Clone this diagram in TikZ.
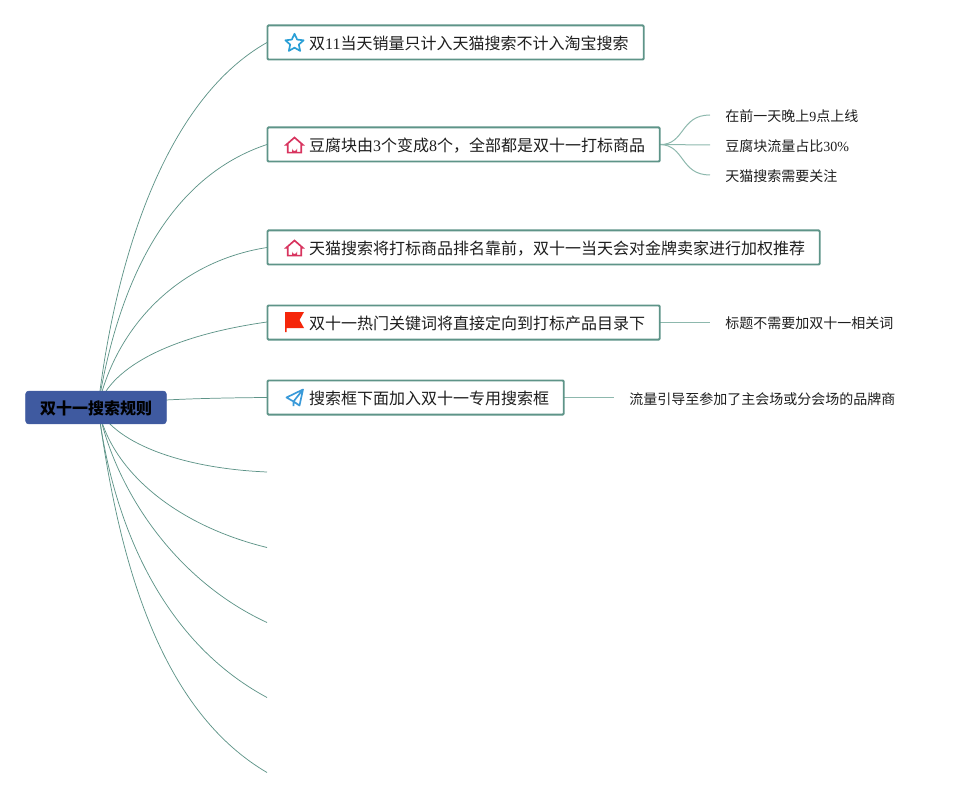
\documentclass[tikz,border=0pt]{standalone}
\usepackage{fontspec}
\setmainfont{Noto Sans CJK SC}
\newfontfamily\lat{Liberation Serif}
\definecolor{edge}{HTML}{5E9488}
\definecolor{subedge}{HTML}{8DB8AD}
\definecolor{rootfill}{HTML}{3F5AA0}
\definecolor{ink}{HTML}{1E1E1E}
\definecolor{stariconc}{HTML}{2A9FD6}
\definecolor{houseiconc}{HTML}{D8345F}
\definecolor{flagiconc}{HTML}{F5260A}
\definecolor{planeiconc}{HTML}{3A9AD9}
\newcommand{\dg}[1]{{\lat #1}}
\newcommand{\topictext}[1]{\hspace*{31.3pt}#1}
\tikzset{
  x=0.75pt,y=-0.75pt,
  topicbox/.style={draw=edge,line width=1.4pt,fill=white,rounded corners=0.8pt,anchor=west,minimum height=25.6pt,inner xsep=0pt,inner ysep=0pt,align=left,text height=10.3pt,text depth=0pt,font=\fontsize{12pt}{14pt}\selectfont,text=ink},
  subtext/.style={anchor=west,inner sep=0pt,font=\fontsize{10.5pt}{12pt}\selectfont,text=ink},
  rootbox/.style={draw=rootfill,fill=rootfill,rounded corners=2.2pt,minimum width=105.5pt,minimum height=24.5pt,inner sep=0pt,text height=11pt,text depth=0pt,font=\fontsize{12pt}{14pt}\selectfont\bfseries,text=black},
  branch/.style={draw=edge,line width=0.55pt},
  subbranch/.style={draw=subedge,line width=0.75pt},
  iconline/.style={line width=1.25pt,line join=round}
}
\begin{document}
\begin{tikzpicture}
\useasboundingbox (0,0) rectangle (955,798);
% free ends
\coordinate (e6) at (267,472);
\coordinate (e7) at (267,547.5);
\coordinate (e8) at (267,622.5);
\coordinate (e9) at (267,697.5);
\coordinate (e10) at (267,772.5);
\coordinate (r) at (98,407);
\coordinate (s1) at (710,115);
\coordinate (s2) at (710,145);
\coordinate (s3) at (710,175);
\coordinate (s4) at (710,322.5);
\coordinate (s5) at (614,397.5);
\path (267,42.5) coordinate (w1) (267,144.5) coordinate (w2) (267,247.5) coordinate (w3) (267,322) coordinate (w4) (267,397.5) coordinate (w5);
\path (660,144.5) coordinate (o2) (660,322.5) coordinate (o4) (564,397.5) coordinate (o5);
% connectors
\draw[branch] (r) .. controls (115,260) and (165,100) .. (w1);
\draw[branch] (r) .. controls (120,270) and (175,175) .. (w2);
\draw[branch] (r) .. controls (115,330) and (175,262) .. (w3);
\draw[branch] (r) .. controls (112,365) and (175,335) .. (w4);
\draw[branch] (r) .. controls (130,400) and (200,398) .. (w5);
\draw[branch] (r) .. controls (112,440) and (175,468) .. (e6);
\draw[branch] (r) .. controls (110,470) and (175,525) .. (e7);
\draw[branch] (r) .. controls (115,490) and (175,580) .. (e8);
\draw[branch] (r) .. controls (112,520) and (160,640) .. (e9);
\draw[branch] (r) .. controls (116,540) and (152,705) .. (e10);
\draw[subbranch] (o2) .. controls (685,145) and (680,115) .. (s1);
\draw[subbranch] (o2) -- (s2);
\draw[subbranch] (o2) .. controls (685,145) and (680,175) .. (s3);
\draw[subbranch] (o4) -- (s4);
\draw[subbranch] (o5) -- (s5);
% root
\node[rootbox] (root) at (96,407.5) {双十一搜索规则};
% topics
\node[topicbox,text width=282.2pt] (t1) at (266.5,42.5) {\topictext{双\dg{11}当天销量只计入天猫搜索不计入淘宝搜索}};
\node[topicbox,text width=294.2pt] (t2) at (266.5,144.5) {\topictext{豆腐块由\dg{3}个变成\dg{8}个，全部都是双十一打标商品}};
\node[topicbox,text width=414.2pt] (t3) at (266.5,247.5) {\topictext{天猫搜索将打标商品排名靠前，双十一当天会对金牌卖家进行加权推荐}};
\node[topicbox,text width=294.2pt] (t4) at (266.5,322.5) {\topictext{双十一热门关键词将直接定向到打标产品目录下}};
\node[topicbox,text width=222.2pt] (t5) at (266.5,397.5) {\topictext{搜索框下面加入双十一专用搜索框}};
% subtopics
\node[subtext] (n1) at (725,116) {在前一天晚上\dg{9}点上线};
\node[subtext] (n2) at (725,146) {豆腐块流量占比\dg{30\%}};
\node[subtext] (n3) at (725,176) {天猫搜索需要关注};
\node[subtext] (n4) at (725,323) {标题不需要加双十一相关词};
\node[subtext] (n5) at (629,399) {流量引导至参加了主会场或分会场的品牌商};
% star icon
\draw[stariconc,iconline] (294.5,33.8) -- (297.2,39.6) -- (303.6,40.3) -- (298.8,44.6) -- (300.2,50.9) -- (294.5,47.7) -- (288.8,50.9) -- (290.2,44.6) -- (285.4,40.3) -- (291.8,39.6) -- cycle;
% house icons
\foreach \cy in {145,248}{
  \draw[houseiconc,iconline,line join=miter] (286.3,\cy-0.3) -- (294.5,\cy-7.5) -- (302.7,\cy-0.3) -- (301.2,\cy-0.3) -- (301.2,\cy+7.6) -- (287.8,\cy+7.6) -- (287.8,\cy-0.3) -- cycle;
  \fill[houseiconc] (292,\cy+8) -- (292,\cy+3.5) arc[start angle=180,end angle=0,radius=2.5] -- (297,\cy+8) -- cycle;
}
% flag icon
\fill[flagiconc] (285,312) -- (304,312) -- (299.5,320) -- (304,328) -- (286.5,328) -- (286.5,332) -- (285,332) -- cycle;
% plane icon
\draw[planeiconc,iconline] (286.5,397.5) -- (303,389.5) -- (299.5,405.5) -- (293.5,401.5) -- cycle (303,389.5) -- (293.5,401.5) -- (293.5,406);
\end{tikzpicture}
\end{document}
